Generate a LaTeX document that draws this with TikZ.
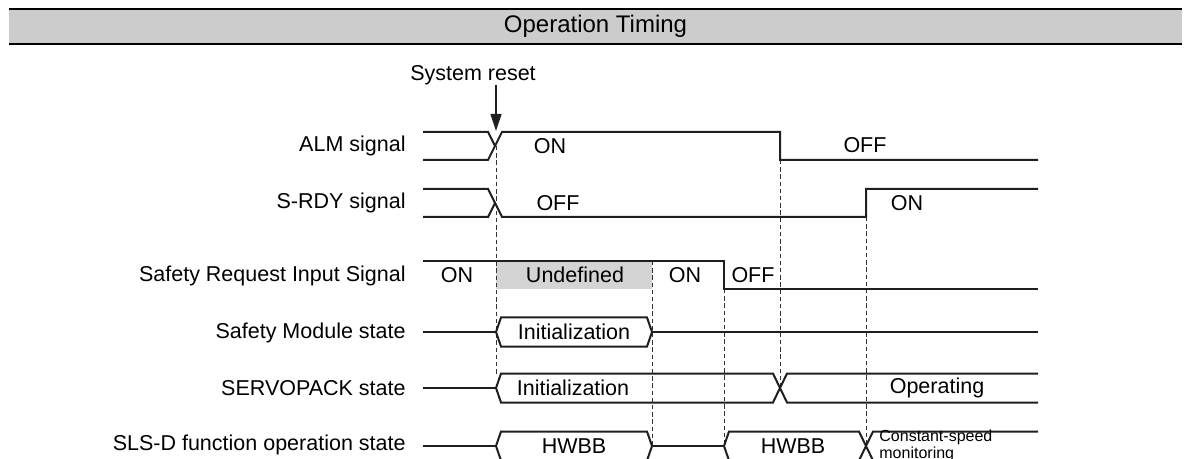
\documentclass[tikz,border=0pt]{standalone}
\usepackage{fontspec}
\setmainfont{Liberation Sans}
\usetikzlibrary{arrows.meta, positioning}

\begin{document}
\begin{tikzpicture}[x=0.5pt, y=-0.5pt,
    sig/.style={draw=black!88, line width=1pt, line join=miter},
    guide/.style={draw=black!80, line width=0.4pt, dash pattern=on 2.2pt off 1.4pt},
    txt/.style={inner sep=0pt, font=\fontsize{10.75}{13}\selectfont},
    rowlbl/.style={txt, anchor=east},
    small/.style={inner sep=0pt, font=\fontsize{8}{5.6}\selectfont, align=left, anchor=west},
    arrow/.style={-{Triangle[length=8.5pt, width=5.5pt]}, line width=0.6pt, black!88}
]
    \useasboundingbox (0,0) rectangle (1187,459);

    % Header
    \fill[black!20] (9,9) rectangle (1182,44);
    \draw[line width=1pt] (9,9) -- (1182,9) (9,44) -- (1182,44);
    \node[txt, font=\fontsize{12}{14}\selectfont] (title) at (595.5,26.5) {Operation Timing};

    % Row labels
    \node[rowlbl] (almLabel) at (406,146) {ALM signal};
    \node[rowlbl] (rdyLabel) at (406,203) {S-RDY signal};
    \node[rowlbl] (reqLabel) at (406,276) {Safety Request Input Signal};
    \node[rowlbl] (modLabel) at (406,333) {Safety Module state};
    \node[rowlbl] (svpLabel) at (406,388) {SERVOPACK state};
    \node[rowlbl] (slsLabel) at (406,445) {SLS-D function operation state};

    % System reset
    \node[txt] (reset) at (473,75) {System reset};
    \coordinate (resetTip) at (496,131);
    \draw[arrow] (reset.south -| resetTip) -- (resetTip);

    % Undefined area
    \fill[black!17] (496,261) rectangle (652,289);

    % Guide lines
    \draw[guide] (496,146) -- (496,376);
    \draw[guide] (652,261) -- (652,446);
    \draw[guide] (724,289) -- (724,446);
    \draw[guide] (780,160) -- (780,388);
    \draw[guide] (866,217) -- (866,446);

    % ALM signal
    \draw[sig] (423,132) -- (488,132) -- (495,146);
    \draw[sig] (423,160) -- (488,160) -- (502,132) -- (780,132) -- (780,160) -- (1038,160);
    \node[txt] (almOn) at (550,146) {ON};
    \node[txt] (almOff) at (865,145) {OFF};

    % S-RDY signal
    \draw[sig] (423,189) -- (488,189) -- (502,217) -- (866,217) -- (866,189) -- (1038,189);
    \draw[sig] (423,217) -- (488,217) -- (495,203);
    \node[txt] (rdyOff) at (558,203) {OFF};
    \node[txt] (rdyOn) at (907,203) {ON};

    % Safety Request Input Signal
    \draw[sig] (423,261) -- (724,261) -- (724,289) -- (1038,289);
    \node[txt] (reqOnA) at (457,275) {ON};
    \node[txt] (reqUndef) at (575,275) {Undefined};
    \node[txt] (reqOnB) at (685,275) {ON};
    \node[txt] (reqOff) at (753,275) {OFF};

    % Safety Module state
    \draw[sig] (423,332) -- (496,332);
    \draw[sig] (496,332) -- (501,317.5) -- (647,317.5) -- (652,332) -- (647,346.5) -- (501,346.5) -- cycle;
    \draw[sig] (652,332) -- (1038,332);
    \node[txt] (modInit) at (574,332) {Initialization};

    % SERVOPACK state
    \draw[sig] (423,388) -- (496,388);
    \draw[sig] (1038,373.5) -- (787,373.5) -- (773,402.5) -- (501,402.5) -- (496,388)
        -- (501,373.5) -- (773,373.5) -- (787,402.5) -- (1038,402.5);
    \node[txt] (svpInit) at (573,388) {Initialization};
    \node[txt] (svpRun) at (937,388) {Operating};

    % SLS-D function operation state
    \draw[sig] (423,446) -- (496,446);
    \draw[sig] (496,446) -- (501,431.5) -- (647,431.5) -- (652,446) -- (647,460.5) -- (501,460.5) -- cycle;
    \draw[sig] (652,446) -- (724,446);
    \draw[sig] (1038,431.5) -- (873,431.5) -- (859,460.5) -- (729,460.5) -- (724,446)
        -- (729,431.5) -- (859,431.5) -- (873,460.5) -- (1038,460.5);
    \node[txt] (slsHwbbA) at (574,446) {HWBB};
    \node[txt] (slsHwbbB) at (793,446) {HWBB};
    \node[small] (slsConst) at (879,446) {Constant-speed\\monitoring};
\end{tikzpicture}
\end{document}
